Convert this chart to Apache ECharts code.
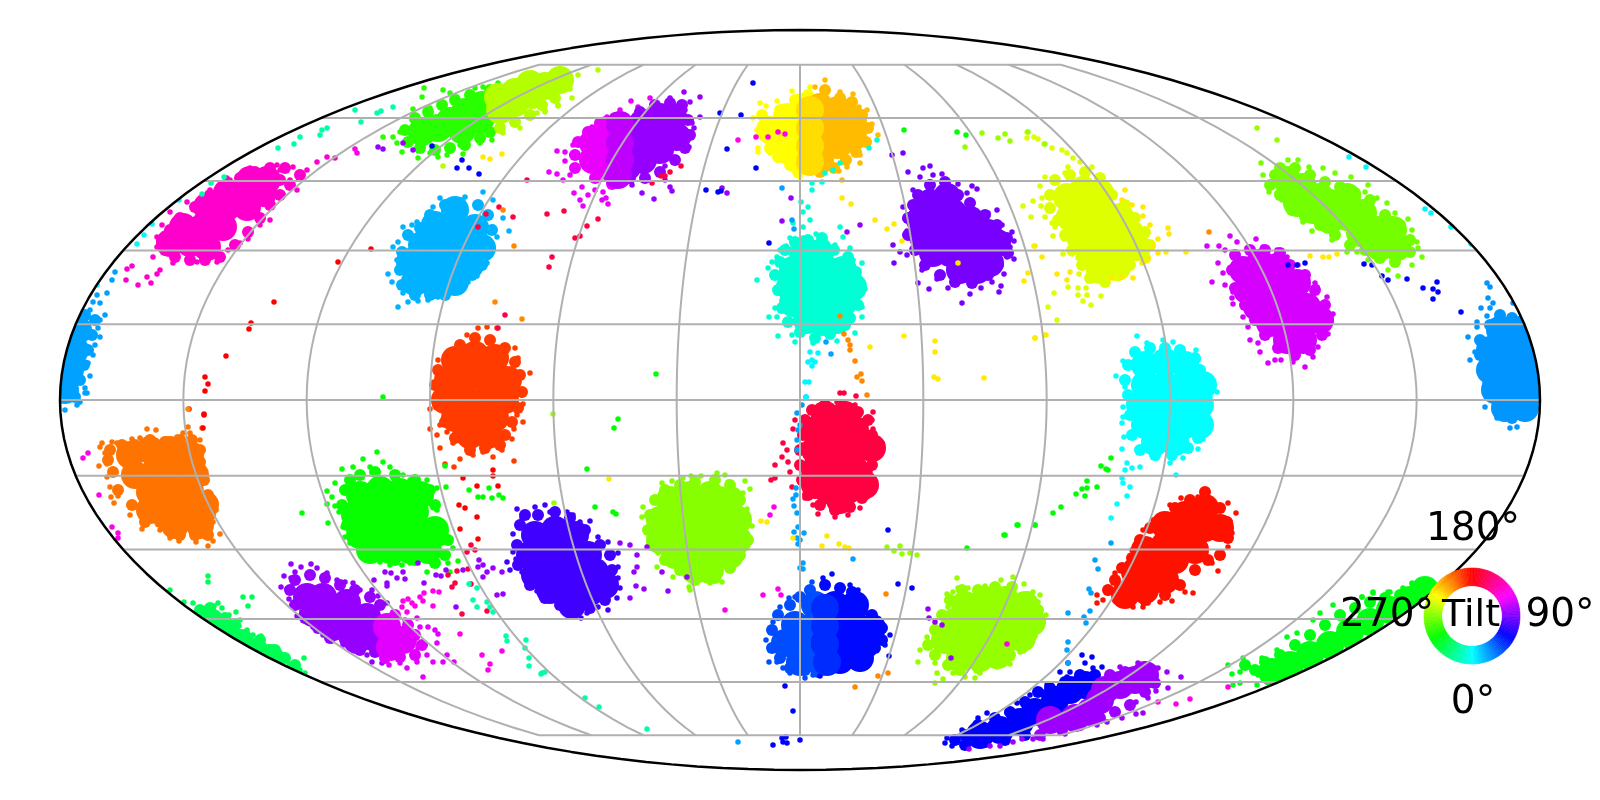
<!DOCTYPE html>
<html>
<head>
<meta charset="utf-8">
<title>Tilt sky map</title>
<script src="https://cdn.jsdelivr.net/npm/echarts@6/dist/echarts.min.js"></script>
<style>
html,body{margin:0;padding:0;background:#fff}
#chart{width:1600px;height:800px}
</style>
</head>
<body>
<div id="chart"></div>
<script>
// points are x,y pairs in the Mollweide plane (x -740..740, y -370..370)
// Core = dense middle of a cluster, Rim = the crowded band round it, Dots = loose edge points
const magentaCore=[-630,157,-610,157,-593,153,-617,173,-597,173,-577,173,-593,193,-573,193,-553,193,-573,207,-553,210,-537,207,-533,220,-550,220];
const magentaRim=[-635,150,-625,143,-610,140,-595,140,-580,143,-565,155,-552,168,-540,182,-530,195,-520,205,-510,215,-500,225,-515,232,-530,232,-545,228,-560,222,-575,212,-590,205,-605,193,-620,182,-630,170,-638,160,-520,220,-535,220];
const magentaDots=[-643,153,-647,143,-640,130,-627,137,-603,138,-583,138,-630,188,-638,175,-643,163,-613,198,-550,232,-523,235,-507,233,-493,230,-483,238,-473,243,-465,242,-503,210,-530,180,-540,175,-552,161,-572,150,-560,157,-673,131,-668,134,-674,120,-662,115,-653,123,-649,117,-643,126,-510,220,-520,230,-570,220,-590,210,-573,222,-553,227];
const greenTopCore=[-378,268,-362,272,-350,279,-338,270,-335,288,-320,280,-318,295];
const greenTopRim=[-392,258,-380,252,-365,250,-350,252,-335,255,-320,262,-310,268,-395,270,-385,282,-372,288,-358,295,-345,300,-330,305,-310,310];
const greenTopDots=[-417,263,-407,263,-403,257,-400,268,-393,268,-388,280,-387,291,-370,292,-357,310,-350,307,-343,303,-325,312,-317,313,-302,317,-376,312,-378,303,-382,242,-398,248,-370,247,-362,243,-353,245,-337,246,-340,255,-320,257,-308,260];
const limeTopCore=[-300,290,-302,303,-285,297,-285,308,-268,305,-270,316,-255,314,-240,320];
const limeTopRim=[-300,272,-285,278,-270,285,-258,295,-245,302,-235,315,-245,322,-258,320,-290,312];
const limeTopDots=[-297,267,-280,272,-255,290,-242,294,-237,310,-257,323,-247,327,-238,327,-230,323,-222,325,-230,311,-228,302,-242,295,-255,288,-263,287,-202,330,-357,234];
const violetTopLeftCore=[-207,257,-207,240,-193,270,-190,253,-190,233];
const violetTopLeftRim=[-225,232,-225,245,-222,258,-212,268,-200,277,-185,282,-205,222,-188,216];
const violetTopLeftDots=[-243,249,-235,248,-235,239,-251,228,-243,226,-230,225,-227,255,-228,245,-217,262,-208,273,-193,283,-180,290,-169,299,-162,293,-150,302,-237,220,-218,213,-226,207,-212,205,-220,200,-217,194,-205,210,-197,208,-194,202,-198,200,-192,196];
const violetTopRightCore=[-173,270,-173,253,-173,233,-157,277,-157,260,-157,240,-140,283,-140,267,-140,250,-127,283,-123,263];
const violetTopRightRim=[-170,222,-155,222,-140,228,-125,240,-115,252,-110,265,-112,280,-118,295,-130,297,-145,295,-160,288];
const violetTopRightDots=[-130,302,-116,308,-100,303,-110,298,-115,290,-100,283,-108,277,-106,272,-112,260,-111,253,-123,240,-135,234,-158,207,-168,215,-178,216,-187,217,-130,213,-128,209,-146,201,-135,220];
const violetTopBlend=[-180,275,-180,257,-180,240,-182,225];
const yellowTopCore=[-30,270,-13,283,-13,267,-13,250,3,293,3,275,3,257,3,240];
const yellowTopRim=[-38,285,-35,265,-30,252,-22,243,-10,235,-2,228,-20,290,-5,300,8,305];
const yellowTopDots=[-40,297,-34,294,-23,299,-8,309,-47,282,-38,277,-43,270,-42,252,-42,248,-30,247,-22,240,-7,231,0,223,20,228,10,313];
const orangeTopCore=[20,293,20,275,20,257,20,240,38,290,38,273,38,255,53,280,53,263];
const orangeTopRim=[25,310,40,302,52,298,62,285,68,272,66,258,56,248,46,240,34,232,20,228];
const orangeTopDots=[25,320,15,313,40,308,53,306,59,293,67,290,72,276,78,265,63,257,60,245,60,237,47,233,39,229,42,220];
const amberTopBlend=[10,290,10,272,10,254,10,238];
const skyCore=[-385,118,-365,115,-345,118,-390,138,-370,135,-350,138,-330,135,-378,155,-358,155,-338,155,-318,152,-365,175,-345,175,-325,172,-345,190];
const skyRim=[-398,115,-400,130,-398,148,-392,165,-380,172,-370,185,-355,195,-340,197,-322,195,-312,185,-308,170,-310,152,-318,135,-328,125,-340,112,-355,105,-370,105,-385,105];
const skyDots=[-402,93,-392,98,-382,99,-372,100,-362,103,-353,103,-342,112,-332,118,-323,124,-313,137,-303,163,-307,173,-291,169,-297,182,-307,200,-317,208,-335,203,-343,198,-360,202,-353,193,-367,193,-372,187,-383,178,-397,173,-388,175,-402,158,-407,153,-403,140,-412,126,-408,118,-397,107];
const tealCore=[3,147,20,147,-7,130,10,130,27,130,43,130,-10,113,7,113,23,113,40,113,53,113,-7,97,10,97,27,97,43,97,7,80,23,78,37,80];
const tealRim=[-15,150,-5,158,8,160,22,162,34,150,48,143,56,128,60,112,58,95,50,82,45,75,30,66,15,62,0,68,-12,78,-18,92,-22,110,-25,125,-20,138];
const tealDots=[16,166,3,162,-3,158,-10,162,-14,154,-20,150,-28,138,-32,132,-23,143,-43,120,-20,125,-22,107,-25,92,-23,83,-31,83,-15,77,-22,64,-8,65,-5,58,13,57,37,59,55,67,45,73,62,83,62,93,65,111,62,137,53,140,50,152,40,173,43,163,35,155,27,157,10,180,3,173,-7,177,1,198,8,193,3,188,12,217,12,210,22,218,25,227,33,230,40,237,77,260,69,252];
const indigoCore=[130,197,147,203,120,180,137,180,153,187,170,180,123,163,140,163,157,167,173,167,188,167,133,147,150,147,167,150,183,150,197,157,160,130,177,130,190,137];
const indigoRim=[113,195,118,205,130,215,145,218,158,205,170,197,185,185,197,175,207,162,208,147,198,135,188,125,172,117,155,118,140,125,125,135,115,150,108,165,108,182];
const indigoDots=[123,232,130,234,120,223,133,225,142,226,113,210,108,228,103,193,105,181,107,169,93,155,100,148,107,145,94,137,118,148,122,130,118,117,129,111,137,121,148,112,162,97,170,106,181,112,192,118,199,108,201,114,204,126,214,141,207,143,210,153,214,159,212,168,202,175,197,190,188,187,177,211,172,214,158,216,167,207,152,210,92,245,103,247];
const citronCore=[267,203,283,210,300,207,270,183,287,187,303,187,320,183,280,163,297,167,313,167,330,167,290,147,307,147,323,150,337,153,300,130,317,133];
const citronRim=[250,205,255,220,270,225,285,228,300,222,312,205,325,195,335,182,345,168,350,155,345,142,330,135,318,125,305,118,290,122,282,135,272,150,265,165,258,180,250,192];
const citronDots=[273,242,280,238,292,233,268,233,265,227,245,223,240,214,242,202,233,199,223,194,241,194,231,183,245,183,252,177,255,173,253,164,264,161,263,146,272,146,278,142,279,126,290,123,286,112,278,112,278,105,287,105,301,104,283,99,291,95,268,113,254,107,248,93,257,80,245,65,235,62,234,154,227,268,227,262,234,263,238,261,244,256,252,252,262,250,267,247];
const amberDots=[325,210,322,200,332,195,343,193,343,184,350,175,368,172,369,166,358,161,353,154,366,148,386,148,358,147,348,141,342,137,333,122,322,123,312,122,270,128,257,126,267,120];
const orchidCore=[443,130,460,137,477,133,447,110,463,113,480,113,497,117,457,93,473,93,490,93,507,93,470,77,487,77,503,77,520,80,487,60,503,60];
const orchidRim=[432,130,435,145,450,150,465,150,480,147,490,135,505,125,515,110,525,95,528,80,522,65,510,50,495,45,478,52,465,65,455,80,445,95,435,112];
const orchidDots=[430,164,437,158,456,161,407,154,419,154,425,150,447,152,463,153,477,150,487,143,498,135,418,137,423,127,412,118,425,115,433,108,432,102,433,96,443,83,448,73,463,67,450,60,458,57,460,48,468,37,475,40,481,40,493,38,505,33,513,43,518,53,528,66,528,72,533,86,527,103,517,113,505,120,515,117];
const limeRightCore=[487,220,503,213,520,203,497,197,513,190,530,197,547,203,530,180,547,183,563,187,560,167,577,170,593,170,580,153,597,153];
const limeRightRim=[475,225,470,215,480,232,495,232,510,225,525,218,540,213,555,207,570,200,585,185,600,175,610,160,610,148,595,138,580,142,565,150,550,155,535,165,520,175,505,183,492,190,480,205];
const limeRightDots=[461,237,463,225,469,208,477,207,482,200,488,240,498,240,509,233,523,232,535,227,551,223,568,215,565,208,577,202,587,197,595,187,608,181,612,170,617,158,618,152,622,143,612,135,598,124,588,130,577,140,568,140,557,148,547,148,532,160,512,169,503,178,492,197];
const azureLeftCore=[-722,70,-725,50,-730,30,-735,10];
const azureLeftRim=[-705,80,-708,65,-712,50,-716,35,-720,20,-725,3,-715,85];
const azureLeftDots=[-695,85,-700,80,-702,72,-700,63,-705,55,-707,45,-712,37,-710,24,-715,12,-713,7,-710,90,-707,98,-700,97,-693,107,-703,105,-688,120,-685,128,-720,-2,-723,-5,-735,-10,-715,7];
const azureRightCore=[700,70,720,70,690,50,710,50,730,50,690,30,710,30,730,30,695,10,715,10,735,10,705,-8,725,-8];
const azureRightRim=[680,60,680,45,685,30,690,15,697,0,700,-12,712,-18,690,75,700,85,712,82,725,82];
const azureRightDots=[687,117,690,113,688,102,693,97,681,92,690,92,687,84,677,78,677,73,668,63,670,40,675,48,682,33,685,17,692,8,685,-7,697,-18,707,-18,717,-27,713,97,703,82,710,-28];
const cyanCore=[345,35,365,38,385,35,345,15,365,15,385,15,403,15,340,-5,360,-5,380,-5,400,-5,345,-25,365,-25,385,-25,400,-25,355,-42,375,-42];
const cyanRim=[328,35,325,20,328,5,330,-15,332,-35,340,-50,355,-55,372,-55,388,-48,398,-38,405,-18,405,0,408,12,400,30,395,42,380,50,365,52,350,52,335,48];
const cyanDots=[337,64,347,57,363,60,373,58,380,50,396,50,398,40,407,18,417,8,410,3,323,39,316,24,325,13,323,-7,323,-17,322,-23,324,-37,322,-49,327,-63,332,-68,340,-67,340,-52,357,-58,370,-63,383,-58,398,-49,403,-39,405,-23,407,-7,376,-75,325,-70,322,-78,323,-83,330,-87,327,-96,317,-104,311,-118];
const flameCore=[-345,40,-325,45,-305,42,-352,20,-332,22,-312,22,-292,20,-355,0,-335,0,-315,0,-295,0,-345,-18,-325,-18,-305,-18,-330,-35,-312,-35];
const flameRim=[-365,15,-362,30,-350,38,-340,55,-325,62,-310,60,-295,52,-285,38,-280,25,-278,8,-282,-8,-288,-22,-295,-35,-300,-45,-315,-48,-330,-50,-345,-38,-355,-22,-362,-5];
const flameDots=[-362,40,-352,45,-333,65,-322,72,-313,73,-303,72,-285,52,-282,42,-270,27,-278,23,-363,10,-278,5,-277,-4,-283,-15,-277,-22,-286,-29,-288,-39,-298,-50,-286,-61,-307,-57,-317,-52,-327,-55,-335,-43,-347,-43,-360,-48,-363,-35,-370,-29,-360,-25,-353,-32,-345,-33,-370,-9,-340,-59,-355,-64,-346,-67];
const crimsonCore=[25,-15,45,-15,15,-30,35,-32,55,-30,15,-50,35,-50,55,-50,72,-48,15,-70,35,-70,55,-70,15,-85,28,-90,48,-90,65,-85,40,-100];
const crimsonRim=[5,-20,3,-35,0,-50,0,-65,2,-80,8,-95,20,-105,35,-110,50,-107,62,-98,68,-82,72,-65,75,-50,72,-35,68,-20,58,-12,42,-5,25,-5,12,-10];
const crimsonDots=[20,-8,37,-2,55,-5,73,-12,72,-20,73,-29,82,-43,77,-53,70,-72,68,-88,67,-97,60,-108,48,-115,35,-117,18,-114,13,-105,5,-98,-8,-87,-25,-78,-29,-80,-10,-72,-25,-65,-18,-57,-12,-62,-13,-50,-17,-43,-7,-29,2,-45,-5,-20];
const orangeCore=[-670,-55,-650,-50,-630,-50,-610,-55,-665,-75,-645,-72,-625,-72,-605,-75,-650,-92,-630,-92,-610,-92,-650,-110,-630,-110,-610,-110,-625,-125,-600,-125,-595,-105];
const orangeRim=[-690,-50,-678,-45,-665,-45,-650,-40,-635,-42,-620,-40,-608,-40,-600,-50,-600,-62,-596,-80,-592,-95,-590,-115,-592,-135,-605,-135,-620,-135,-640,-122,-655,-122,-668,-105,-682,-90,-687,-72,-692,-60];
const orangeDots=[-698,-43,-700,-47,-688,-42,-683,-43,-668,-39,-660,-38,-653,-29,-644,-30,-635,-39,-623,-37,-617,-33,-610,-33,-612,-27,-598,-28,-600,-40,-605,-48,-603,-65,-593,-93,-590,-102,-584,-110,-587,-122,-580,-134,-587,-141,-592,-146,-604,-142,-621,-141,-630,-138,-640,-130,-658,-129,-670,-115,-686,-103,-689,-97,-682,-96,-690,-87,-693,-77,-701,-66,-693,-64,-695,-53];
const greenCore=[-440,-95,-420,-90,-400,-92,-380,-95,-445,-115,-425,-112,-405,-112,-385,-112,-440,-135,-420,-132,-400,-132,-380,-135,-365,-130,-410,-150,-390,-150,-372,-150,-430,-150];
const greenRim=[-450,-80,-440,-75,-425,-72,-405,-75,-385,-80,-370,-90,-365,-105,-362,-125,-352,-140,-355,-155,-365,-163,-385,-160,-405,-160,-425,-152,-445,-140,-453,-125,-458,-105,-455,-90];
const greenDots=[-423,-52,-437,-59,-430,-67,-417,-62,-410,-67,-447,-67,-458,-69,-465,-83,-473,-91,-468,-97,-473,-104,-465,-106,-461,-112,-472,-123,-457,-127,-455,-137,-450,-143,-435,-143,-425,-157,-420,-162,-410,-165,-398,-165,-390,-163,-373,-172,-365,-165,-352,-163,-350,-172,-342,-161,-358,-143,-363,-138,-360,-123,-363,-110,-372,-98,-363,-88,-354,-87,-373,-80,-390,-80,-397,-75,-407,-73,-347,-148];
const blueVioletCore=[-265,-135,-245,-130,-225,-135,-270,-155,-250,-152,-230,-152,-212,-155,-265,-175,-245,-172,-225,-172,-205,-172,-250,-190,-230,-192,-210,-192,-228,-205,-195,-185];
const blueVioletRim=[-280,-125,-275,-115,-262,-115,-245,-112,-230,-118,-215,-130,-200,-145,-190,-155,-188,-170,-188,-185,-195,-200,-210,-208,-225,-212,-240,-205,-255,-198,-270,-185,-282,-165,-283,-145];
const blueVioletDots=[-265,-107,-255,-105,-250,-112,-233,-112,-227,-115,-220,-122,-210,-121,-202,-137,-192,-142,-182,-153,-182,-167,-182,-178,-180,-188,-183,-198,-192,-210,-202,-207,-213,-213,-219,-218,-228,-207,-242,-198,-252,-198,-263,-191,-283,-109,-278,-118,-287,-134,-287,-152,-293,-162,-284,-159,-290,-170,-278,-172,-270,-178,-251,-198];
const limeMidCore=[-130,-100,-110,-95,-90,-95,-70,-100,-140,-120,-120,-115,-100,-115,-80,-115,-62,-120,-140,-140,-120,-135,-100,-135,-80,-135,-62,-140,-125,-155,-105,-155,-85,-155,-70,-155,-105,-170,-90,-170];
const limeMidRim=[-150,-115,-145,-100,-135,-90,-120,-85,-105,-82,-85,-80,-70,-85,-60,-100,-55,-120,-52,-140,-60,-155,-70,-168,-85,-178,-105,-180,-120,-170,-135,-160,-148,-145,-152,-130];
const limeMidDots=[-138,-83,-128,-81,-117,-78,-109,-76,-99,-76,-83,-73,-75,-75,-72,-82,-78,-89,-68,-93,-55,-81,-60,-110,-57,-125,-48,-126,-53,-147,-61,-158,-69,-169,-78,-182,-90,-183,-111,-187,-110,-190,-127,-177,-143,-167,-137,-162,-142,-153,-153,-128,-158,-117,-157,-107,-145,-102,-135,-93,-53,-109,-57,-93,-50,-89];
const redCore=[325,-195,345,-190,365,-180,335,-172,355,-168,375,-160,395,-150,345,-150,365,-145,385,-135,405,-128,365,-125,385,-115,405,-108,420,-128];
const redRim=[308,-190,315,-180,322,-168,332,-158,340,-140,350,-128,362,-118,375,-108,390,-100,405,-92,420,-108,427,-122,428,-138,420,-155,408,-160,395,-170,380,-185,365,-195,345,-200,330,-200];
const redDots=[407,-90,398,-97,381,-98,428,-103,436,-113,430,-122,432,-133,428,-147,418,-171,412,-163,393,-193,385,-192,372,-201,360,-202,348,-203,343,-207,333,-207,327,-205,322,-200,315,-201,303,-200,297,-203,297,-195,308,-193,317,-183,315,-173,320,-167,328,-163,332,-150,337,-142,343,-130,353,-120,363,-115,370,-105];
const violetLowCore=[-493,-197,-477,-197,-487,-213,-470,-210,-453,-203,-467,-227,-450,-223,-433,-217,-443,-240,-427,-237];
const violetLowRim=[-510,-190,-505,-180,-490,-175,-475,-178,-460,-185,-445,-190,-430,-197,-420,-205,-505,-205,-495,-218,-482,-228,-470,-238,-455,-240,-440,-250,-425,-252];
const violetLowDots=[-509,-164,-499,-167,-489,-164,-516,-176,-509,-178,-519,-187,-513,-189,-511,-199,-505,-172,-483,-168,-473,-173,-463,-180,-455,-182,-447,-183,-440,-190,-428,-190,-422,-196,-413,-203,-503,-216,-487,-227,-477,-235,-468,-241,-457,-245,-445,-248,-433,-255,-428,-262,-418,-263];
const orchidLowCore=[-413,-227,-410,-247,-397,-240];
const orchidLowRim=[-405,-215,-392,-225,-385,-235,-378,-245,-385,-255,-400,-257,-415,-258];
const orchidLowDots=[-407,-212,-411,-265,-400,-263,-393,-268,-377,-277,-383,-262,-373,-255,-367,-262,-357,-262,-353,-255,-346,-262,-363,-243,-382,-248,-395,-220,-383,-218,-380,-227,-372,-227,-365,-230,-362,-234];
const royalCore=[-5,-225,15,-205,15,-225,-15,-243,5,-243,0,-262,20,-262];
const royalRim=[-28,-230,-22,-215,-10,-205,0,-197,10,-190,-28,-248,-20,-258,-10,-268,5,-270,18,-272];
const royalDots=[12,-182,7,-190,-5,-197,-11,-198,-20,-207,-22,-213,-27,-222,-34,-240,-30,-250,-31,-262,-23,-262,-17,-268,-10,-273,0,-273,5,-278,13,-275];
const pureBlueCore=[35,-205,55,-205,35,-225,55,-225,72,-228,25,-243,45,-243,65,-243,40,-260,60,-258];
const pureBlueRim=[25,-185,40,-188,52,-192,62,-205,72,-215,82,-228,82,-240,75,-248,62,-255,50,-262,35,-266];
const pureBlueDots=[23,-178,32,-174,20,-276,33,-268,42,-270,53,-263,65,-255,73,-253,89,-256,85,-245,75,-242,90,-235,80,-223,73,-217,67,-213,65,-203,58,-190,50,-185];
const blueBlend=[25,-208,25,-226,25,-244,27,-262];
const limeLowCore=[165,-205,185,-200,205,-200,225,-205,155,-222,175,-222,195,-220,215,-220,232,-222,145,-240,165,-242,185,-240,205,-240,222,-238,160,-258,180,-258,198,-255];
const limeLowRim=[150,-200,162,-190,178,-190,195,-187,212,-187,228,-197,238,-210,240,-222,232,-235,222,-248,210,-255,195,-263,178,-268,160,-270,148,-265,135,-255,128,-245,135,-230,142,-215];
const limeLowDots=[157,-178,201,-180,213,-177,224,-184,158,-188,168,-188,185,-186,233,-192,240,-195,147,-194,153,-192,238,-202,232,-212,246,-215,238,-227,228,-235,228,-242,220,-252,212,-258,210,-264,197,-267,180,-273,175,-278,165,-277,153,-273,143,-279,135,-283,137,-273,118,-262,135,-263,147,-267,120,-250,127,-237,132,-243,135,-225,148,-207,147,-201,158,-207];
const blueBandCore=[180,-335,200,-330,220,-322,235,-312,255,-300,270,-290,285,-285];
const blueBandRim=[155,-340,165,-335,178,-325,195,-318,210,-312,225,-302,238,-292,250,-288,265,-282,280,-275,295,-275,165,-345,185,-342,205,-340,225,-335];
const blueBandDots=[147,-338,152,-346,145,-343,162,-330,178,-318,187,-313,207,-313,217,-303,230,-295,243,-292,247,-285,260,-272,267,-277,270,-272,282,-255,292,-257,285,-263,293,-268,268,-263,302,-267,167,-345,183,-345,172,-338];
const purpleBandCore=[250,-320,275,-318,290,-312,300,-300,305,-290,320,-285,335,-280,345,-275];
const purpleBandRim=[310,-275,325,-272,340,-270,352,-270,355,-283,345,-292,330,-305,315,-312,300,-318,280,-325,262,-330,240,-335];
const purpleBandDots=[320,-267,338,-263,348,-267,358,-268,367,-272,353,-275,381,-277,368,-288,356,-291,348,-298,336,-302,343,-313,336,-314,322,-318,307,-322,297,-325,265,-334,243,-339,233,-339,222,-339,213,-342,200,-346,190,-346,169,-349];
const greenRightCore=[472,-272,490,-265,510,-255,530,-245,550,-232,570,-222,590,-210,610,-200,625,-190];
const greenRightRim=[445,-265,455,-270,465,-262,480,-255,495,-245,510,-235,525,-225,540,-215,555,-208,570,-202,585,-198,600,-195,470,-280,490,-275,510,-268,530,-255,550,-245];
const greenRightDots=[428,-265,443,-258,448,-265,440,-272,432,-274,433,-285,440,-283,457,-285,458,-275,462,-258,477,-250,487,-237,497,-233,513,-220,520,-213,533,-205,562,-197,573,-192,588,-192,603,-188,612,-183,620,-180,630,-183,612,-184,603,-190,573,-193,590,-192,562,-197];
const springLeftCore=[-590,-222,-575,-232,-560,-243,-545,-252,-530,-258];
const springLeftRim=[-600,-210,-590,-208,-575,-218,-565,-225,-555,-235,-540,-240,-525,-250,-515,-258,-505,-265];
const springLeftDots=[-630,-190,-616,-202,-607,-203,-582,-203,-578,-208,-564,-212,-586,-206,-571,-215,-560,-220,-561,-226,-553,-230,-547,-235,-539,-236,-540,-245,-530,-247,-526,-248,-517,-255,-520,-257,-511,-264,-500,-270,-496,-258,-495,-273,-592,-176,-592,-182,-557,-197,-548,-197,-552,-206];
// lone points outside the clusters, one list per colour
const strayRed=[-429,151,-462,138,-526,98,-549,77,-551,71,-574,44,-595,23,-592,16,-595,9,-611,-9,-596,-15,-597,-28,-596,-14,-307,-70,-307,-76,-337,-78,-323,-86,-302,-86,-341,-105,-335,-108,-323,-117,-340,-129,-322,-139];
const strayCrimson=[-329,-145,-333,-152,-325,-150,-343,-171,-352,-175,-332,-169,-345,-183,-348,-187,-329,-184,-338,-214,-313,-211,40,7,44,7,56,4,-295,85,-302,72,-248,143,-251,133,-273,220,-301,193,-287,183,-322,173,-314,186,-225,162,-220,164,-213,174,-202,181,-253,186,-236,189,-139,224,-135,224,-130,228,-119,234,-148,217];
const strayMagenta=[-367,-191,-361,-192,-376,-193,-380,-197,-377,-201,-367,-206,-397,-201,-392,-199,-385,-206,-398,-207,-393,-212,-340,-234,-318,-255,-298,-251,-310,-264,-312,-270,-388,-203,-445,251,-443,247,-37,-195,-22,-189,-19,-195,-75,-210,-26,-107,-30,-115,-44,263,-32,263,-22,268,-15,266,-62,260,-712,-53,-717,-58,-701,-95,-688,-127,-682,-133,-682,-138,376,-304,390,-299,428,-287,358,-302,207,-244];
const strayPurple=[-415,-172,-409,-173,-403,-178,-397,-172,-395,-179,-426,-180,-413,-183,-413,-186,-382,-163,-376,-183,-364,-175,-359,-176,-354,-170,-337,-170,-321,-160,-322,-167,-317,-165,-313,-172,-317,-177,-307,-168,-298,-172,-303,-195,-297,-194,-344,-207,-397,257,-387,250,-422,253,-417,251,-18,179,-9,202,60,175,47,168,-78,212,-73,207,-180,-143,-170,-145,-163,-155,-153,-147,-163,-167,-166,-172,-164,-186,-156,-189,-170,-198,-132,-191,-138,-172,-113,-177,128,-209,129,-218,135,-222,142,-225,151,-258];
const strayBlue=[-338,240,-343,232,-331,232,-321,226,-368,254,-47,317,-80,287,-59,285,-73,251,-44,232,-94,210,-82,208,-79,209,-31,157,88,-130,98,-184,112,-188,-15,-286,-7,-311,0,-340,-13,-343,-27,-345,-18,-338,-14,-337,-17,-342,582,124,588,120,607,121,623,112,633,111,638,108,637,118,633,101,661,88,564,136,572,135,488,135,497,135,505,137];
const straySky=[-18,212,-8,180,-6,171,26,58,31,46,6,3,2,-5,-3,-13,0,-25,-2,-30,-3,-40,-3,-50,-4,-88,-7,-99,-4,-95,-6,-106,-3,-113,-2,-127,-6,-132,4,-133,-3,-138,0,-140,-2,-144,3,-163,3,-169,0,-168,53,-159,-62,-342,311,-143,295,-160,298,-169,289,-189,291,-193,290,-211,284,-217,286,-223,268,-213,268,-242,267,-250,268,-263];
const strayCyan=[10,48,18,47,12,40,8,38,15,38,12,34,5,18,9,18,6,3,549,243,566,233,625,191,631,187,651,173,671,156,-663,156,-656,165,-648,176,-621,200,-703,115];
const strayTeal=[-445,290,-439,278,-473,272,-478,270,-480,265,-500,263,-506,256,-522,252,-407,293,-419,289,-423,287,-576,223,-589,217,-598,206,-215,-298,-201,-307,-153,-329,-258,-273,-294,-236,-293,-241,-274,-240,-275,-248,-271,-258,-271,-266,-259,-274,-255,-272,-323,-188,-327,-200,-323,-207,-313,-202,-310,-207,-307,-212,-331,-184];
const strayGreen=[-417,3,-144,26,-498,-113,-355,-66,-331,-90,-322,-97,-317,-97,-311,-88,-308,-98,-301,-95,-297,-98,-182,-19,-186,-28,-213,-69,-205,-107,-187,-112,-184,-114,218,-125,235,-125,205,-135,167,-148,311,-58,301,-66,306,-69,308,-70,287,-81,282,-89,287,-88,297,-87,276,-94,285,-96,261,-107,253,-113,217,-125,235,-125,204,-135,104,270,157,268,166,265];
const strayLime=[-246,-103,-247,-14,87,-147,94,-151,100,-146,102,-154,110,-153,117,-155,457,272,477,260,182,267,165,253,198,262,205,266,210,259,228,268,245,256];
const strayYellow=[-317,243,-310,241,-298,246,42,202,51,196,75,180,87,171,94,176,102,159,104,64,135,59,135,48,70,53,134,23,138,21,184,22,235,154,242,143,228,127,224,119,235,62,246,65,-191,-79,-39,-121,-33,-122,-7,-138,27,-136,22,-146,39,-144,45,-147,49,-148,158,137,510,144,523,143,529,143,537,146];
const strayOrange=[-305,98,-278,81,-286,154,-297,190,40,84,44,66,48,60,50,55,50,50,55,39,61,26,57,23,62,19,67,5,86,-194,78,-276,88,-273,55,-287,409,168,-612,-9];

// tilt of each cluster, then its core, rim and edge lists
const clusterTable=[
  [132,magentaCore,magentaRim,magentaDots],[290,greenTopCore,greenTopRim,greenTopDots],[258,limeTopCore,limeTopRim,limeTopDots],
  [115,violetTopLeftCore,violetTopLeftRim,violetTopLeftDots],[95,violetTopRightCore,violetTopRightRim,violetTopRightDots],[105,violetTopBlend,[],[]],
  [240,yellowTopCore,yellowTopRim,yellowTopDots],[224,orangeTopCore,orangeTopRim,orangeTopDots],[232,amberTopBlend,[],[]],[18,skyCore,skyRim,skyDots],
  [350,tealCore,tealRim,tealDots],[88,indigoCore,indigoRim,indigoDots],[248,citronCore,citronRim,citronDots],[235,[],[],amberDots],
  [110,orchidCore,orchidRim,orchidDots],[273,limeRightCore,limeRightRim,limeRightDots],[22,azureLeftCore,azureLeftRim,azureLeftDots],
  [25,azureRightCore,azureRightRim,azureRightDots],[0,cyanCore,cyanRim,cyanDots],[194,flameCore,flameRim,flameDots],
  [165,crimsonCore,crimsonRim,crimsonDots],[207,orangeCore,orangeRim,orangeDots],[298,greenCore,greenRim,greenDots],
  [75,blueVioletCore,blueVioletRim,blueVioletDots],[268,limeMidCore,limeMidRim,limeMidDots],[184,redCore,redRim,redDots],
  [95,violetLowCore,violetLowRim,violetLowDots],[113,orchidLowCore,orchidLowRim,orchidLowDots],[42,royalCore,royalRim,royalDots],
  [58,pureBlueCore,pureBlueRim,pureBlueDots],[50,blueBlend,[],[]],[265,limeLowCore,limeLowRim,limeLowDots],[60,blueBandCore,blueBandRim,blueBandDots],
  [97,purpleBandCore,purpleBandRim,purpleBandDots],[305,greenRightCore,greenRightRim,greenRightDots],[320,springLeftCore,springLeftRim,springLeftDots]
];
const strayTable=[[180,strayRed],[165,strayCrimson],[125,strayMagenta],[95,strayPurple],[60,strayBlue],
  [22,straySky],[2,strayCyan],[340,strayTeal],[300,strayGreen],[265,strayLime],[235,strayYellow],[212,strayOrange]];

const meridians=[-150,-120,-90,-60,-30,0,30,60,90,120,150];
const parallels=[-75,-60,-45,-30,-15,0,15,30,45,60,75];
const tiltLabels=[['180°',1473,530],['90°',1560,616],['270°',1387,616],['0°',1473,703]];

function pairs(list){
  let out=[];
  for(let i=0;i<list.length;i+=2) out.push([list[i],list[i+1]]);
  return out;
}
// tilt 0 is cyan, tilt 90 violet, tilt 180 red, tilt 270 lime
function tiltColor(t){
  return 'hsl('+((t+180)%360)+',100%,50%)';
}
function mollweide(lon,lat){
  let phi=lat*Math.PI/180,th=phi;
  for(let i=0;i<30;i++){
    th-=(2*th+Math.sin(2*th)-Math.PI*Math.sin(phi))/(2+2*Math.cos(2*th));
  }
  return [740*lon/180*Math.cos(th),370*Math.sin(th)];
}
function scatter(list,tilt,size){
  return {type:'scatter',data:pairs(list),symbolSize:size,silent:true,z:2,
    itemStyle:{color:tiltColor(tilt),opacity:1}};
}
function gridLine(data){
  return {type:'line',data:data,symbol:'none',silent:true,z:6,clip:false,
    lineStyle:{color:'#b0b0b0',width:2}};
}

let series=[];
clusterTable.forEach(c=>{
  series.push(scatter(c[1],c[0],28));
  series.push(scatter(c[2],c[0],12));
  series.push(scatter(c[3],c[0],5.5));
});
strayTable.forEach(s=>series.push(scatter(s[1],s[0],5.5)));

// white outside the ellipse, so clusters on the rim get cut off like in the original
series.push({type:'custom',silent:true,z:5,clip:false,data:[[0,0]],
  renderItem:function(params,api){
    let pts=[];
    for(let a=0;a<=360;a+=2){
      let r=a*Math.PI/180;
      pts.push(api.coord([740*Math.cos(r),370*Math.sin(r)]));
    }
    [[800,0],[800,-400],[-800,-400],[-800,400],[800,400],[800,0]].forEach(p=>pts.push(api.coord(p)));
    return {type:'polygon',shape:{points:pts},style:{fill:'#fff'}};
  }});

meridians.forEach(lon=>{
  let d=[];
  for(let lat=-75;lat<=75;lat+=2.5) d.push(mollweide(lon,lat));
  series.push(gridLine(d));
});
parallels.forEach(lat=>{
  let cap=Math.abs(lat)===75?150:180;
  series.push(gridLine([mollweide(-cap,lat),mollweide(cap,lat)]));
});

let outline=[];
for(let a=0;a<=360;a+=2){
  let r=a*Math.PI/180;
  outline.push([740*Math.cos(r),370*Math.sin(r)]);
}
series.push({type:'line',data:outline,symbol:'none',silent:true,z:7,clip:false,
  lineStyle:{color:'#000',width:2.5}});

// colour ring, starts at the top (tilt 180) and runs clockwise
let ring=[];
for(let i=0;i<180;i++){
  let tilt=(180-i*2+360)%360,c=tiltColor(tilt);
  ring.push({value:1,itemStyle:{color:c,borderColor:c,borderWidth:0.6}});
}
series.push({type:'pie',center:[1472,616],radius:[30.3,48],startAngle:91,silent:true,z:8,
  label:{show:false},labelLine:{show:false},data:ring});

let texts=tiltLabels.map(l=>({type:'text',x:l[1],y:l[2],z:100,
  style:{text:l[0],fill:'#000',font:'39px "DejaVu Sans"',textAlign:'center',textVerticalAlign:'middle'}}));
texts.push({type:'text',x:1471,y:616,z:100,
  style:{text:'Tilt',fill:'#000',font:'38px "DejaVu Sans"',textAlign:'center',textVerticalAlign:'middle'}});

let myChart=echarts.init(document.getElementById('chart'),null,{renderer:'canvas'});
myChart.setOption({
  backgroundColor:'#fff',
  animation:false,
  grid:{left:60,right:60,top:30,bottom:30},
  xAxis:{type:'value',min:-740,max:740,show:false},
  yAxis:{type:'value',min:-370,max:370,show:false},
  graphic:texts,
  series:series
});
</script>
</body>
</html>
